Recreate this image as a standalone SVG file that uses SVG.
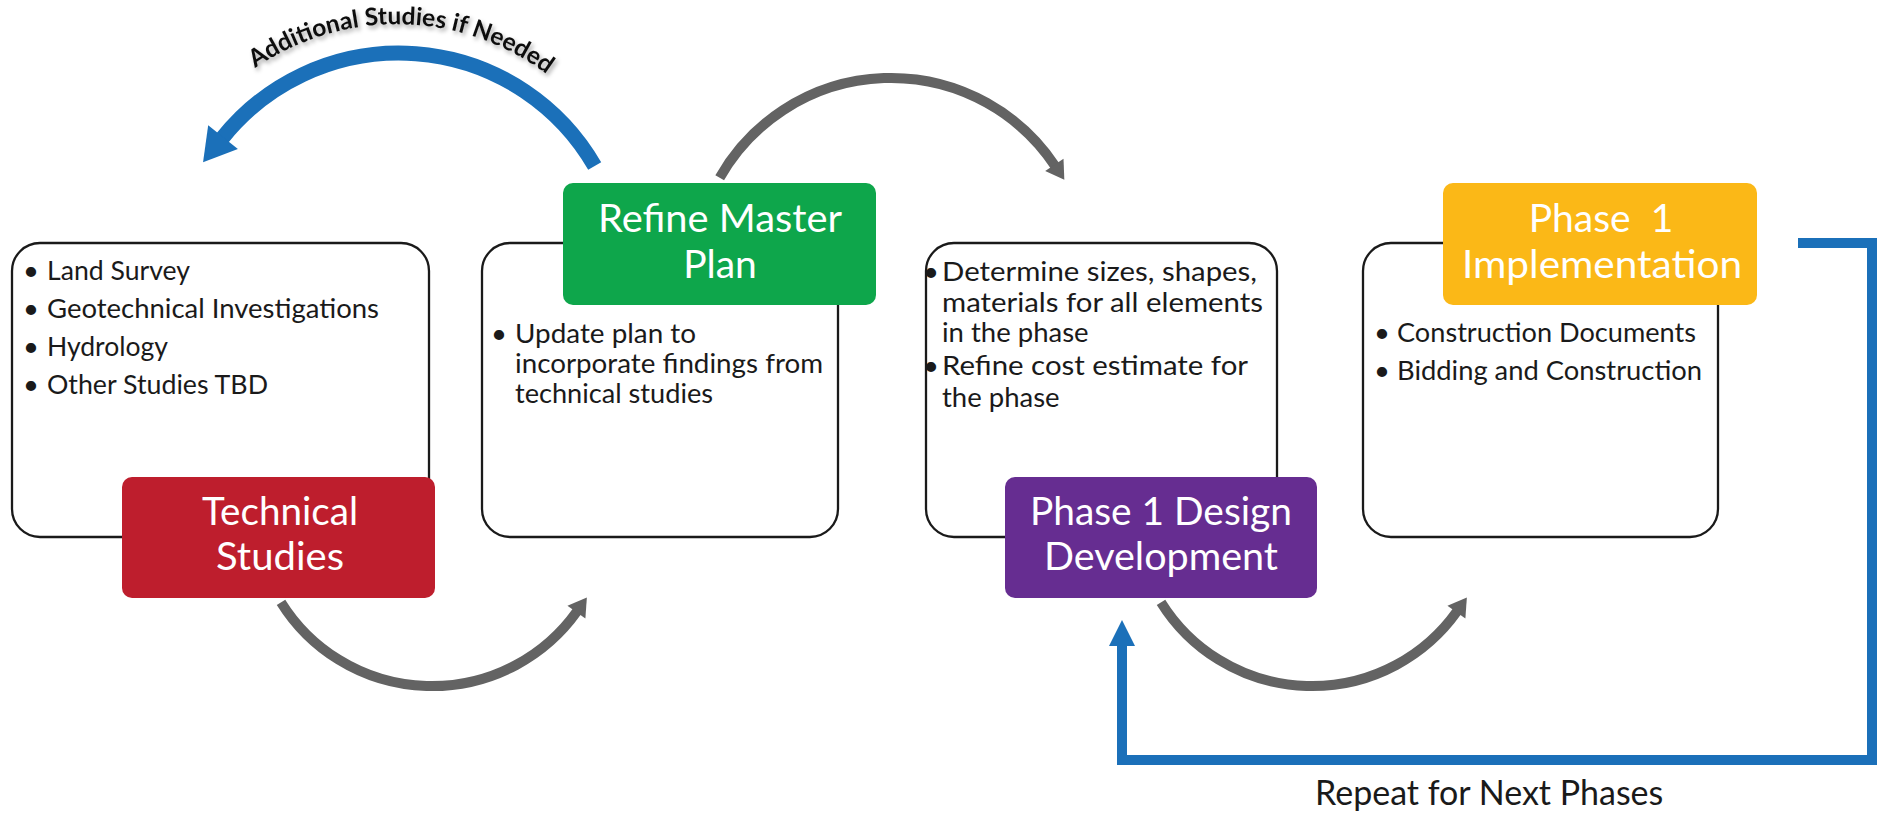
<svg xmlns="http://www.w3.org/2000/svg" width="1883" height="815" viewBox="0 0 1883 815">
<style>
.frame{fill:#fff;stroke:#1a1a1a;stroke-width:2.3}
.body{font-family:Lato,"Open Sans",sans-serif;font-size:27.5px;fill:#1a1a1a}
.title{font-family:Lato,"Open Sans",sans-serif;font-size:39px;fill:#fff;text-anchor:middle}
.bul{text-anchor:middle}
.gray{fill:none;stroke:#636363;stroke-width:10}
.blue{fill:none;stroke:#1b70b9}
.curve{font-family:Lato,"Open Sans",sans-serif;font-weight:700;font-size:24.5px;fill:#111}
.note{font-family:Lato,"Open Sans",sans-serif;font-size:34px;fill:#1a1a1a}
</style>
<defs>
<marker id="ahG" markerUnits="userSpaceOnUse" viewBox="-2 -15 30 30" markerWidth="30" markerHeight="30" refX="0" refY="0" orient="auto"><path d="M-1,-11 L17,0 L-1,11 z" fill="#636363"/></marker>
<marker id="ahB" markerUnits="userSpaceOnUse" viewBox="-2 -25 40 50" markerWidth="40" markerHeight="50" refX="0" refY="0" orient="auto"><path d="M-1,-19 L31,0 L-1,19 z" fill="#1b70b9"/></marker>
<marker id="ahB2" markerUnits="userSpaceOnUse" viewBox="-2 -16 30 32" markerWidth="30" markerHeight="32" refX="0" refY="0" orient="auto"><path d="M-1,-13 L25,0 L-1,13 z" fill="#1b70b9"/></marker>
<filter id="sh" x="-10%" y="-30%" width="120%" height="160%"><feDropShadow dx="2" dy="3" stdDeviation="2" flood-color="#000" flood-opacity="0.35"/></filter>
<path id="arcText" d="M231 87 A250 250 0 0 1 570 94"/>
</defs>

<g id="technical-studies">
<rect class="frame" x="12" y="243" width="417" height="294" rx="28"/>
<text class="body bul" x="31" y="280">•</text>
<text class="body" x="47" y="280" textLength="143" lengthAdjust="spacingAndGlyphs">Land Survey</text>
<text class="body bul" x="31" y="318">•</text>
<text class="body" x="47" y="318" textLength="332" lengthAdjust="spacingAndGlyphs">Geotechnical Investigations</text>
<text class="body bul" x="31" y="356">•</text>
<text class="body" x="47" y="356" textLength="121" lengthAdjust="spacingAndGlyphs">Hydrology</text>
<text class="body bul" x="31" y="394">•</text>
<text class="body" x="47" y="394" textLength="221" lengthAdjust="spacingAndGlyphs">Other Studies TBD</text>
<rect x="122" y="477" width="313" height="121" rx="10" fill="#be1e2d"/>
<text class="title" x="280" y="525" textLength="156" lengthAdjust="spacingAndGlyphs">Technical</text>
<text class="title" x="280" y="570" textLength="128" lengthAdjust="spacingAndGlyphs">Studies</text>
</g>

<g id="refine-master-plan">
<rect class="frame" x="482" y="243" width="356" height="294" rx="28"/>
<text class="body bul" x="499" y="343">•</text>
<text class="body" x="515" y="343" textLength="181" lengthAdjust="spacingAndGlyphs">Update plan to</text>
<text class="body" x="515" y="373" textLength="308" lengthAdjust="spacingAndGlyphs">incorporate findings from</text>
<text class="body" x="515" y="403" textLength="198" lengthAdjust="spacingAndGlyphs">technical studies</text>
<rect x="563" y="183" width="313" height="122" rx="10" fill="#0ea64b"/>
<text class="title" x="720" y="232" textLength="244" lengthAdjust="spacingAndGlyphs">Refine Master</text>
<text class="title" x="720" y="278">Plan</text>
</g>

<g id="design-development">
<rect class="frame" x="926" y="243" width="351" height="294" rx="28"/>
<text class="body bul" x="931" y="281">•</text>
<text class="body" x="942" y="281" textLength="315" lengthAdjust="spacingAndGlyphs">Determine sizes, shapes,</text>
<text class="body" x="942" y="312" textLength="321" lengthAdjust="spacingAndGlyphs">materials for all elements</text>
<text class="body" x="942" y="342">in the phase</text>
<text class="body bul" x="931" y="375">•</text>
<text class="body" x="942" y="375" textLength="306" lengthAdjust="spacingAndGlyphs">Refine cost estimate for</text>
<text class="body" x="942" y="407">the phase</text>
<rect x="1005" y="477" width="312" height="121" rx="10" fill="#662d91"/>
<text class="title" x="1161" y="525" textLength="262" lengthAdjust="spacingAndGlyphs">Phase 1 Design</text>
<text class="title" x="1161" y="570" textLength="234" lengthAdjust="spacingAndGlyphs">Development</text>
</g>

<g id="implementation">
<rect class="frame" x="1363" y="243" width="355" height="294" rx="28"/>
<text class="body bul" x="1382" y="342">•</text>
<text class="body" x="1397" y="342" textLength="299" lengthAdjust="spacingAndGlyphs">Construction Documents</text>
<text class="body bul" x="1382" y="380">•</text>
<text class="body" x="1397" y="380" textLength="305" lengthAdjust="spacingAndGlyphs">Bidding and Construction</text>
<rect x="1443" y="183" width="314" height="122" rx="10" fill="#fbb817"/>
<text class="title" x="1601" y="232" xml:space="preserve">Phase  1</text>
<text class="title" x="1602" y="278" textLength="280" lengthAdjust="spacingAndGlyphs">Implementation</text>
</g>

<g id="connectors">
<path class="gray" d="M281 602.3 A178 178 0 0 0 577 611.4" marker-end="url(#ahG)"/>
<path class="gray" d="M719.7 177.7 A197 197 0 0 1 1054.9 165.7" marker-end="url(#ahG)"/>
<path class="gray" d="M1161 602.3 A178 178 0 0 0 1457 611.4" marker-end="url(#ahG)"/>
<path class="blue" stroke-width="15" d="M594.7 166 A226 226 0 0 0 222.4 138" marker-end="url(#ahB)"/>
<path class="blue" stroke-width="10" d="M1798 243 H1872 V760 H1122 V645" marker-end="url(#ahB2)"/>
<text class="curve" filter="url(#sh)"><textPath href="#arcText" startOffset="50%" text-anchor="middle">Additional Studies if Needed</textPath></text>
<text class="note" x="1315" y="805">Repeat for Next Phases</text>
</g>
</svg>
